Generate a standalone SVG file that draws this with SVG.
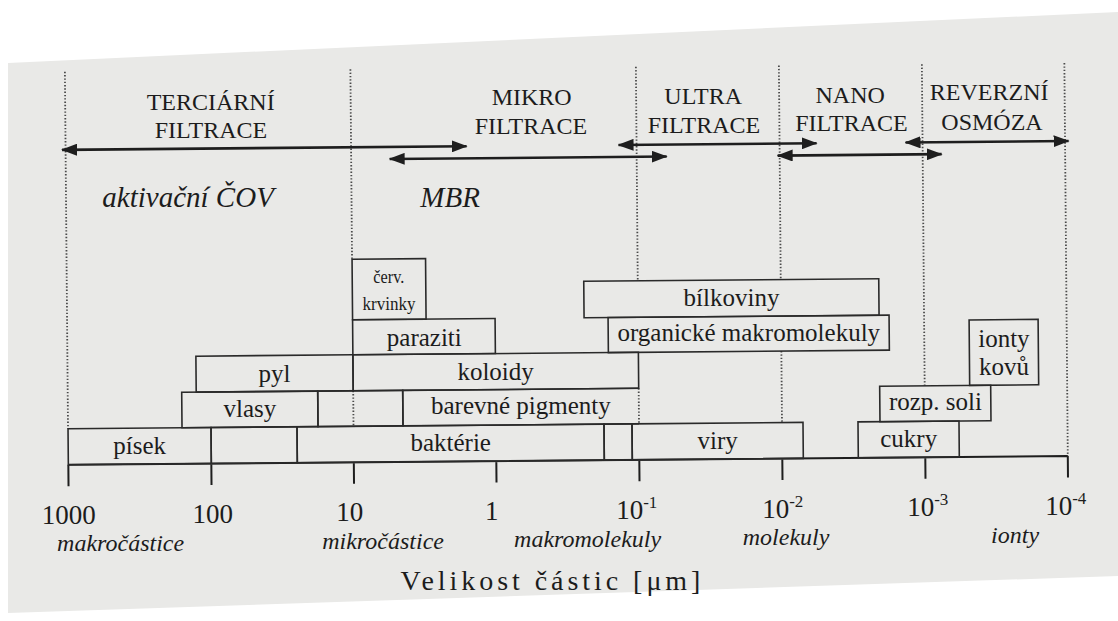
<svg xmlns="http://www.w3.org/2000/svg" width="1118" height="621" viewBox="0 0 1118 621">
<defs>
<style>
.box{fill:none;stroke:#2a2a2a;stroke-width:1.6}
.dot{fill:none;stroke:#4a4a4a;stroke-width:1.8;stroke-dasharray:1.4 1.9}
.ax{fill:none;stroke:#1e1e1e;stroke-width:2}
.arr{fill:none;stroke:#1e1e1e;stroke-width:2.6}
</style>
<marker id="ah" viewBox="0 0 16 12" refX="15" refY="6" markerWidth="16" markerHeight="12" markerUnits="userSpaceOnUse" orient="auto-start-reverse"><path d="M0,0 L16,6 L0,12 z" fill="#1e1e1e"/></marker>
</defs>
<rect width="1118" height="621" fill="#ffffff"/>
<polygon points="8,63 1118,12 1118,576 8,613" fill="#e9e9e7"/>
<g id="gridlines" transform="rotate(-0.5 560 310)">
<path class="dot" d="M67,67.5V424.5 M352.5,67.5V257.5 M352.5,389V424.5 M638,67.5V281.5 M638,389V424.5 M781,67.5V281.5 M781,353V424.5 M924,67.5V389 M1066.5,67.5V460.5"/>
</g>
<g id="axis">
<path class="ax" transform="rotate(-0.5 560 310)" d="M67,460.5H1066.5 M67,460.5V482 M210,460.5V482 M352.5,460.5V482 M495,460.5V482 M638,460.5V482 M781,460.5V482 M924,460.5V482 M1066.5,460.5V482"/>
<text font-family="Liberation Serif, Times New Roman, serif" font-size="27" text-anchor="middle" fill="#1c1c1c" x="68.8" y="523.8">1000</text>
<text font-family="Liberation Serif, Times New Roman, serif" font-size="27" text-anchor="middle" fill="#1c1c1c" x="212.8" y="522.5">100</text>
<text font-family="Liberation Serif, Times New Roman, serif" font-size="27" text-anchor="middle" fill="#1c1c1c" x="349.8" y="521.4">10</text>
<text font-family="Liberation Serif, Times New Roman, serif" font-size="27" text-anchor="middle" fill="#1c1c1c" x="491.8" y="520.1">1</text>
<text font-family="Liberation Serif, Times New Roman, serif" font-size="27" text-anchor="middle" fill="#1c1c1c" x="636.8" y="518.8">10<tspan font-size="17" dy="-11">-1</tspan></text>
<text font-family="Liberation Serif, Times New Roman, serif" font-size="27" text-anchor="middle" fill="#1c1c1c" x="782.8" y="517.6">10<tspan font-size="17" dy="-11">-2</tspan></text>
<text font-family="Liberation Serif, Times New Roman, serif" font-size="27" text-anchor="middle" fill="#1c1c1c" x="927.8" y="516.3">10<tspan font-size="17" dy="-11">-3</tspan></text>
<text font-family="Liberation Serif, Times New Roman, serif" font-size="27" text-anchor="middle" fill="#1c1c1c" x="1065.8" y="515.1">10<tspan font-size="17" dy="-11">-4</tspan></text>
<text font-family="Liberation Serif, Times New Roman, serif" font-size="24" font-style="italic" text-anchor="middle" fill="#1c1c1c" x="120.6" y="550.9">makročástice</text>
<text font-family="Liberation Serif, Times New Roman, serif" font-size="24" font-style="italic" text-anchor="middle" fill="#1c1c1c" x="383.1" y="548.6">mikročástice</text>
<text font-family="Liberation Serif, Times New Roman, serif" font-size="24" font-style="italic" text-anchor="middle" fill="#1c1c1c" x="587.6" y="546.8">makromolekuly</text>
<text font-family="Liberation Serif, Times New Roman, serif" font-size="24" font-style="italic" text-anchor="middle" fill="#1c1c1c" x="786.1" y="545">molekuly</text>
<text font-family="Liberation Serif, Times New Roman, serif" font-size="24" font-style="italic" text-anchor="middle" fill="#1c1c1c" x="1015.1" y="543">ionty</text>
<text font-family="Liberation Serif, Times New Roman, serif" font-size="28" fill="#1c1c1c" x="400.4" y="590.4" textLength="300" lengthAdjust="spacing">Velikost částic [μm]</text>
</g>
<g id="headers">
<text font-family="Liberation Serif, Times New Roman, serif" font-size="24" text-anchor="middle" fill="#1c1c1c" x="210.7" y="110">TERCIÁRNÍ</text>
<text font-family="Liberation Serif, Times New Roman, serif" font-size="24" text-anchor="middle" fill="#1c1c1c" x="211" y="138">FILTRACE</text>
<text font-family="Liberation Serif, Times New Roman, serif" font-size="24" text-anchor="middle" fill="#1c1c1c" x="531.7" y="105.2">MIKRO</text>
<text font-family="Liberation Serif, Times New Roman, serif" font-size="24" text-anchor="middle" fill="#1c1c1c" x="531" y="134.2">FILTRACE</text>
<text font-family="Liberation Serif, Times New Roman, serif" font-size="24" text-anchor="middle" fill="#1c1c1c" x="703.2" y="103.7">ULTRA</text>
<text font-family="Liberation Serif, Times New Roman, serif" font-size="24" text-anchor="middle" fill="#1c1c1c" x="704" y="132.7">FILTRACE</text>
<text font-family="Liberation Serif, Times New Roman, serif" font-size="24" text-anchor="middle" fill="#1c1c1c" x="850.2" y="102.5">NANO</text>
<text font-family="Liberation Serif, Times New Roman, serif" font-size="24" text-anchor="middle" fill="#1c1c1c" x="851.5" y="131.4">FILTRACE</text>
<text font-family="Liberation Serif, Times New Roman, serif" font-size="24" text-anchor="middle" fill="#1c1c1c" x="989.2" y="100.2">REVERZNÍ</text>
<text font-family="Liberation Serif, Times New Roman, serif" font-size="24" text-anchor="middle" fill="#1c1c1c" x="992" y="130.2">OSMÓZA</text>
<text font-family="Liberation Serif, Times New Roman, serif" font-size="29" font-style="italic" text-anchor="middle" fill="#1c1c1c" x="188.1" y="207.2">aktivační ČOV</text>
<text font-family="Liberation Serif, Times New Roman, serif" font-size="29" font-style="italic" text-anchor="middle" fill="#1c1c1c" x="450.1" y="207">MBR</text>
</g>
<g id="connectors" transform="rotate(-0.5 560 310)" marker-start="url(#ah)" marker-end="url(#ah)">
<line class="arr" x1="63.5" y1="145.5" x2="468" y2="145.5"/>
<line class="arr" x1="391" y1="157.5" x2="668" y2="157.5"/>
<line class="arr" x1="620" y1="145.5" x2="818" y2="145.5"/>
<line class="arr" x1="779" y1="157.5" x2="943" y2="157.5"/>
<line class="arr" x1="907" y1="145.5" x2="1070" y2="145.5"/>
</g>
<g id="pisek"><rect class="box" transform="rotate(-0.5 560 310)" x="67" y="424.5" width="143" height="36"/><text font-family="Liberation Serif, Times New Roman, serif" font-size="25" text-anchor="middle" fill="#1c1c1c" x="139.7" y="454.2">písek</text></g>
<g id="empty1"><rect class="box" transform="rotate(-0.5 560 310)" x="210" y="424.5" width="86" height="36"/></g>
<g id="bakterie"><rect class="box" transform="rotate(-0.5 560 310)" x="296" y="424.5" width="307" height="36"/><text font-family="Liberation Serif, Times New Roman, serif" font-size="25" text-anchor="middle" fill="#1c1c1c" x="450.7" y="451">baktérie</text></g>
<g id="empty2"><rect class="box" transform="rotate(-0.5 560 310)" x="603" y="424.5" width="28" height="36"/></g>
<g id="viry"><rect class="box" transform="rotate(-0.5 560 310)" x="631" y="424.5" width="171" height="36"/><text font-family="Liberation Serif, Times New Roman, serif" font-size="25" text-anchor="middle" fill="#1c1c1c" x="717.7" y="448.6">viry</text></g>
<g id="cukry"><rect class="box" transform="rotate(-0.5 560 310)" x="857" y="424.5" width="101" height="36"/><text font-family="Liberation Serif, Times New Roman, serif" font-size="25" text-anchor="middle" fill="#1c1c1c" x="908.7" y="447">cukry</text></g>
<g id="vlasy"><rect class="box" transform="rotate(-0.5 560 310)" x="181" y="389" width="136" height="35.5"/><text font-family="Liberation Serif, Times New Roman, serif" font-size="25" text-anchor="middle" fill="#1c1c1c" x="249.9" y="416.7">vlasy</text></g>
<g id="empty3"><rect class="box" transform="rotate(-0.5 560 310)" x="317" y="389" width="85" height="35.5"/></g>
<g id="barevne-pigmenty"><path class="box" transform="rotate(-0.5 560 310)" d="M638,389H402V424.5H638"/><text font-family="Liberation Serif, Times New Roman, serif" font-size="25" text-anchor="middle" fill="#1c1c1c" x="520.9" y="413.8">barevné pigmenty</text></g>
<g id="rozp-soli"><rect class="box" transform="rotate(-0.5 560 310)" x="879" y="389" width="111" height="35.5"/><text font-family="Liberation Serif, Times New Roman, serif" font-size="25" text-anchor="middle" fill="#1c1c1c" x="935.4" y="410.2">rozp. soli</text></g>
<g id="pyl"><rect class="box" transform="rotate(-0.5 560 310)" x="195.5" y="353" width="157" height="36"/><text font-family="Liberation Serif, Times New Roman, serif" font-size="25" text-anchor="middle" fill="#1c1c1c" x="274.6" y="381.5">pyl</text></g>
<g id="koloidy"><rect class="box" transform="rotate(-0.5 560 310)" x="352.5" y="353" width="285.5" height="36"/><text font-family="Liberation Serif, Times New Roman, serif" font-size="25" text-anchor="middle" fill="#1c1c1c" x="495.6" y="379.6">koloidy</text></g>
<g id="paraziti"><rect class="box" transform="rotate(-0.5 560 310)" x="352.5" y="318" width="142.5" height="35"/><text font-family="Liberation Serif, Times New Roman, serif" font-size="25" text-anchor="middle" fill="#1c1c1c" x="424.3" y="346.2">paraziti</text></g>
<g id="organicke-makromolekuly"><rect class="box" transform="rotate(-0.5 560 310)" x="608" y="318" width="281" height="35"/><text font-family="Liberation Serif, Times New Roman, serif" font-size="25" text-anchor="middle" fill="#1c1c1c" x="748.8" y="341.4">organické makromolekuly</text></g>
<g id="cerv-krvinky"><rect class="box" transform="rotate(-0.5 560 310)" x="352.5" y="257.5" width="73.5" height="60.5"/><text font-family="Liberation Serif, Times New Roman, serif" font-size="19" text-anchor="middle" fill="#1c1c1c" x="388.8" y="283" textLength="31" lengthAdjust="spacingAndGlyphs">červ.</text><text font-family="Liberation Serif, Times New Roman, serif" font-size="19" text-anchor="middle" fill="#1c1c1c" x="389" y="310" textLength="53" lengthAdjust="spacingAndGlyphs">krvinky</text></g>
<g id="bilkoviny"><rect class="box" transform="rotate(-0.5 560 310)" x="584" y="281.5" width="295" height="36.5"/><text font-family="Liberation Serif, Times New Roman, serif" font-size="25" text-anchor="middle" fill="#1c1c1c" x="731.5" y="305.5">bílkoviny</text></g>
<g id="ionty-kovu"><rect class="box" transform="rotate(-0.5 560 310)" x="969" y="323.5" width="69" height="65.5"/><text font-family="Liberation Serif, Times New Roman, serif" font-size="25" text-anchor="middle" fill="#1c1c1c" x="1003.9" y="346.6">ionty</text><text font-family="Liberation Serif, Times New Roman, serif" font-size="25" text-anchor="middle" fill="#1c1c1c" x="1004.1" y="375.1">kovů</text></g>
</svg>
